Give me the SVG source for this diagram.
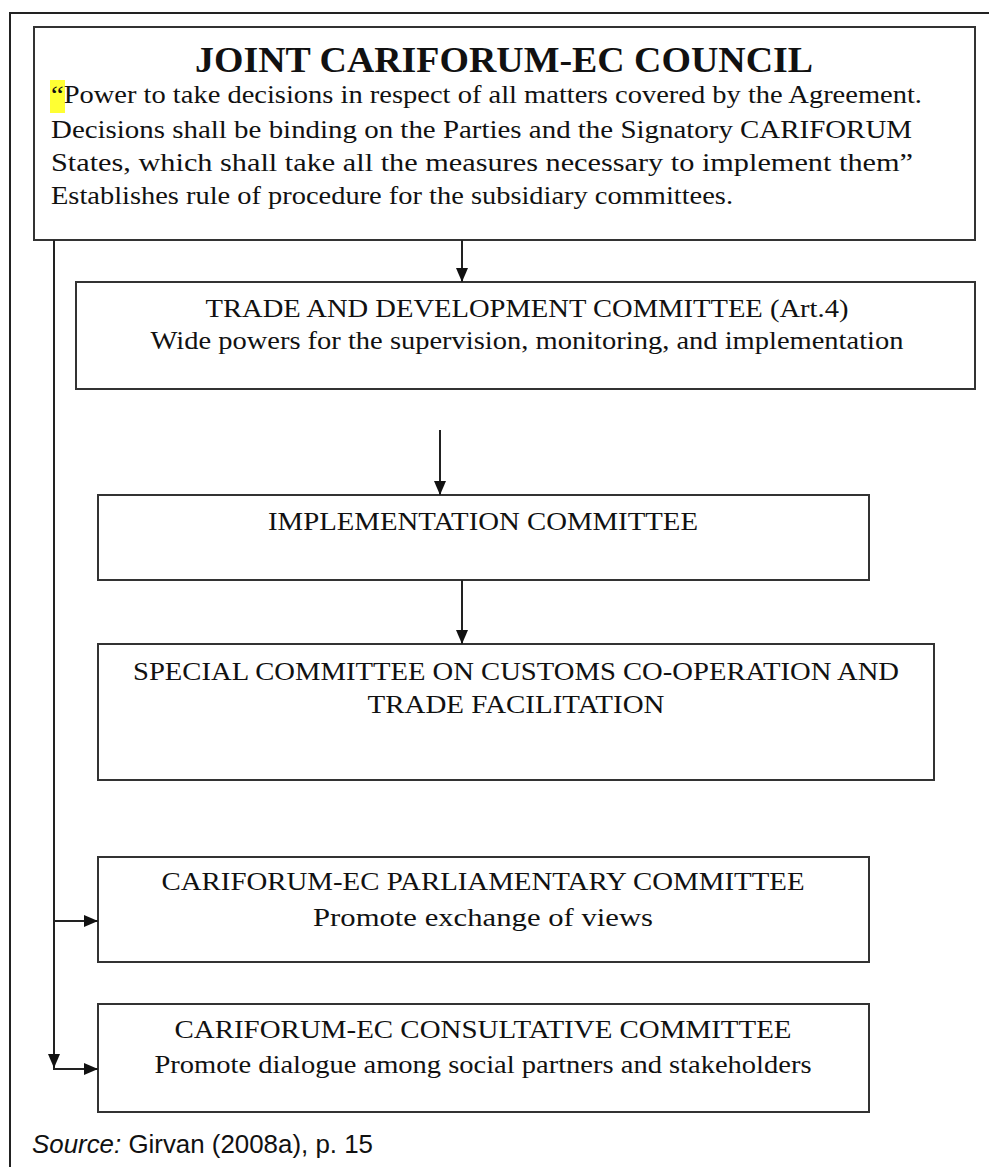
<svg xmlns="http://www.w3.org/2000/svg" width="989" height="1167" viewBox="0 0 989 1167">
<style>
.box{fill:#fff;stroke:#333;stroke-width:2}
.t{font-family:"Liberation Serif","Times New Roman",serif;fill:#111}
.c{font-size:26px;text-anchor:middle}
.b{font-size:25px}
.ttl{font-size:36px;font-weight:bold;text-anchor:middle}
.ln{stroke:#222;stroke-width:2;fill:none}
.src{font-family:"Liberation Sans",Arial,sans-serif;font-size:25px;fill:#111}
</style>
<defs>
<marker id="ah" markerUnits="userSpaceOnUse" markerWidth="14" markerHeight="12" refX="14" refY="6" orient="auto">
<path d="M0,0 L14,6 L0,12 z" fill="#111"/>
</marker>
</defs>
<rect width="989" height="1167" fill="#fff"/>
<path d="M10,1167 V13 H989" class="ln"/>
<g id="council">
<rect class="box" x="34" y="27" width="941" height="213"/>
<rect x="50" y="80" width="15" height="33" fill="#ffff33"/>
<text class="t ttl" x="504" y="72" textLength="618" lengthAdjust="spacingAndGlyphs">JOINT CARIFORUM-EC COUNCIL</text>
<text class="t b" x="51" y="103" textLength="871" lengthAdjust="spacingAndGlyphs">“Power to take decisions in respect of all matters covered by the Agreement.</text>
<text class="t b" x="51" y="138" textLength="861" lengthAdjust="spacingAndGlyphs">Decisions shall be binding on the Parties and the Signatory CARIFORUM</text>
<text class="t b" x="51" y="171" textLength="862" lengthAdjust="spacingAndGlyphs">States, which shall take all the measures necessary to implement them”</text>
<text class="t b" x="51" y="204" textLength="682" lengthAdjust="spacingAndGlyphs">Establishes rule of procedure for the subsidiary committees.</text>
</g>
<g id="trade">
<rect class="box" x="76" y="282" width="899" height="107"/>
<text class="t c" x="527" y="317" textLength="643" lengthAdjust="spacingAndGlyphs">TRADE AND DEVELOPMENT COMMITTEE (Art.4)</text>
<text class="t c" x="527" y="349" textLength="753" lengthAdjust="spacingAndGlyphs">Wide powers for the supervision, monitoring, and implementation</text>
</g>
<g id="implementation">
<rect class="box" x="98" y="495" width="771" height="85"/>
<text class="t c" x="483" y="530" textLength="430" lengthAdjust="spacingAndGlyphs">IMPLEMENTATION COMMITTEE</text>
</g>
<g id="special">
<rect class="box" x="98" y="644" width="836" height="136"/>
<text class="t c" x="516" y="680" textLength="766" lengthAdjust="spacingAndGlyphs">SPECIAL COMMITTEE ON CUSTOMS CO-OPERATION AND</text>
<text class="t c" x="516" y="713" textLength="297" lengthAdjust="spacingAndGlyphs">TRADE FACILITATION</text>
</g>
<g id="parliamentary">
<rect class="box" x="98" y="857" width="771" height="105"/>
<text class="t c" x="483" y="890" textLength="643" lengthAdjust="spacingAndGlyphs">CARIFORUM-EC PARLIAMENTARY COMMITTEE</text>
<text class="t c" x="483" y="926" textLength="340" lengthAdjust="spacingAndGlyphs">Promote exchange of views</text>
</g>
<g id="consultative">
<rect class="box" x="98" y="1004" width="771" height="108"/>
<text class="t c" x="483" y="1038" textLength="617" lengthAdjust="spacingAndGlyphs">CARIFORUM-EC CONSULTATIVE COMMITTEE</text>
<text class="t c" x="483" y="1073" textLength="657" lengthAdjust="spacingAndGlyphs">Promote dialogue among social partners and stakeholders</text>
</g>
<g id="connectors">
<line class="ln" x1="462" y1="240" x2="462" y2="282" marker-end="url(#ah)"/>
<line class="ln" x1="440" y1="430" x2="440" y2="495" marker-end="url(#ah)"/>
<line class="ln" x1="462" y1="580" x2="462" y2="644" marker-end="url(#ah)"/>
<line class="ln" x1="54" y1="240" x2="54" y2="1068" marker-end="url(#ah)"/>
<line class="ln" x1="53" y1="921" x2="98" y2="921" marker-end="url(#ah)"/>
<line class="ln" x1="53" y1="1069" x2="98" y2="1069" marker-end="url(#ah)"/>
</g>
<text class="src" x="32" y="1153" textLength="341" lengthAdjust="spacingAndGlyphs"><tspan font-style="italic">Source:</tspan> Girvan (2008a), p. 15</text>
</svg>
